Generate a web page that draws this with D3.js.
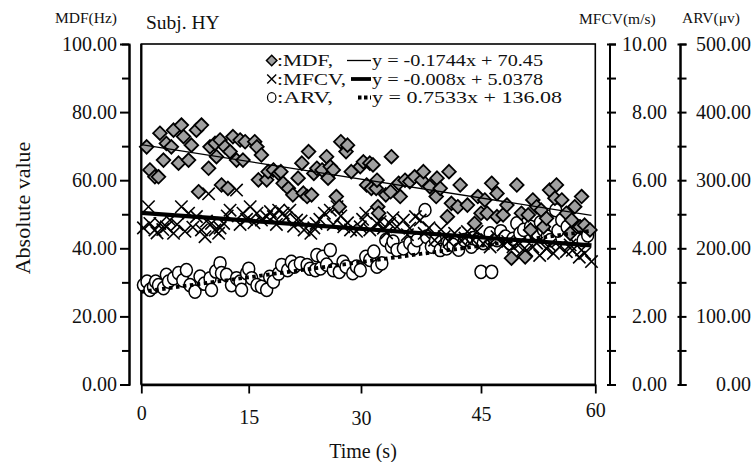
<!DOCTYPE html>
<html>
<head>
<meta charset="utf-8">
<script src="https://cdn.jsdelivr.net/npm/d3@7.9.0/dist/d3.min.js"></script>
<style>
  body { margin: 0; background: #fff; }
  svg text { font-family: "Liberation Serif", "DejaVu Serif", serif; fill: #111; }
</style>
</head>
<body>
<svg id="chart" width="755" height="462"></svg>
<script>
// --- data ---
const xTicks = [0, 15, 30, 45, 60];
const leftTicks = [0, 20, 40, 60, 80, 100];
const mfcvTicks = [0, 2, 4, 6, 8, 10];
const arvTicks = [0, 100, 200, 300, 400, 500];

// MDF (Hz)
const mdfTime = [0.75, 1.2, 1.9, 2.4, 2.6, 3.1, 3.5, 4.2, 4.5, 5.2, 5.6, 5.9, 6.6, 7.0, 7.7, 8.0, 8.4, 9.4, 9.6, 10.3,
  10.5, 11.0, 11.2, 11.7, 12.1, 12.4, 12.8, 13.3, 13.8, 14.2, 14.5, 15.8, 16.1, 16.3, 16.7, 17.4, 17.6, 18.3, 19.0, 19.3,
  19.6, 20.3, 20.9, 21.6, 22.1, 22.3, 22.8, 23.0, 23.4, 23.7, 24.1, 24.8, 25.4, 25.6, 25.9, 26.3, 26.7, 27.1, 27.3, 28.0,
  28.2, 28.7, 29.9, 30.3, 30.7, 31.1, 31.3, 31.5, 31.9, 32.0, 32.1, 32.2, 33.1, 33.7, 33.8, 34.7, 34.9, 35.5, 36.1, 36.7,
  37.6, 37.8, 38.6, 39.4, 39.5, 39.9, 40.8, 41.0, 41.3, 42.1, 42.4, 43.3, 44.2, 44.6, 45.0, 45.5, 45.8, 46.4, 47.1, 47.1,
  47.9, 48.4, 49.0, 49.7, 50.3, 50.8, 51.2, 51.5, 51.8, 52.3, 52.9, 53.2, 53.6, 54.0, 54.7, 54.9, 55.6, 56.2, 56.7, 56.9,
  57.3, 58.0, 58.2, 58.6, 59.3];
const mdfValue = [69.8, 63.0, 61.0, 61.0, 73.8, 65.9, 70.8, 69.8, 74.7, 65.0, 76.2, 72.8, 65.9, 70.3, 74.7, 56.6, 76.2, 63.5, 69.8, 70.8,
  66.9, 71.8, 58.6, 69.8, 57.6, 68.4, 72.8, 65.9, 71.8, 65.9, 71.3, 71.3, 69.8, 60.1, 67.4, 60.1, 62.5, 63.0, 62.0, 62.5,
  59.1, 57.6, 55.7, 60.6, 65.0, 56.2, 55.2, 68.4, 55.7, 62.0, 63.5, 63.0, 66.9, 60.6, 64.0, 63.0, 55.2, 52.2, 71.3, 68.4,
  70.3, 62.5, 64.0, 65.4, 58.6, 65.0, 57.6, 64.5, 57.6, 60.0, 52.2, 50.3, 55.7, 56.6, 66.9, 59.1, 55.2, 60.0, 59.6, 61.0,
  60.0, 62.5, 58.1, 55.2, 60.6, 57.6, 49.3, 62.5, 53.2, 52.2, 58.6, 52.7, 47.3, 55.2, 50.3, 54.2, 50.3, 59.1, 56.1, 49.3,
  49.8, 52.7, 37.1, 58.6, 50.3, 37.5, 49.8, 45.4, 54.2, 52.2, 51.2, 46.3, 48.8, 57.1, 54.7, 58.6, 54.2, 50.3, 44.4, 48.3,
  52.2, 46.3, 55.2, 46.8, 45.4];

// MFCV (m/s)
const mfcvTime = [0.3, 1.0, 1.2, 1.9, 2.2, 2.6, 3.0, 3.5, 4.0, 4.5, 5.0, 5.6, 6.1, 6.6, 7.2, 7.7, 8.4, 8.9, 9.1, 9.4,
  9.8, 10.3, 10.8, 11.0, 11.5, 12.0, 12.4, 13.3, 13.8, 14.2, 14.7, 15.2, 15.7, 16.1, 16.7, 17.4, 17.9, 18.3, 18.7, 19.0,
  19.6, 20.0, 20.5, 21.0, 21.4, 22.0, 22.4, 23.3, 23.7, 24.0, 24.5, 25.1, 25.9, 26.3, 26.8, 27.3, 27.7, 28.2, 28.6, 29.4,
  29.9, 30.2, 30.6, 31.1, 32.0, 32.4, 32.8, 33.2, 33.6, 34.0, 34.5, 35.3, 35.8, 36.1, 36.8, 37.4, 37.9, 38.5, 39.2, 40.0,
  40.4, 41.0, 41.7, 42.5, 43.0, 43.3, 44.0, 44.5, 45.3, 45.8, 46.2, 47.1, 47.9, 48.5, 49.2, 50.1, 50.5, 51.0, 51.8, 52.3,
  52.7, 53.6, 54.0, 54.5, 55.3, 56.2, 56.7, 57.0, 57.9, 58.2, 58.6, 59.5];
const mfcvValue = [4.60, 5.22, 4.73, 4.54, 4.45, 4.73, 4.55, 4.63, 4.83, 4.44, 4.70, 5.22, 4.50, 5.03, 4.62, 4.93, 4.54, 4.34, 4.80, 5.60,
  4.73, 4.54, 4.44, 4.60, 4.73, 4.95, 5.12, 5.71, 4.70, 5.03, 4.85, 5.22, 4.75, 5.03, 4.83, 4.93, 5.08, 4.93, 4.70, 5.12,
  5.03, 4.90, 5.12, 4.65, 4.83, 4.80, 4.54, 4.44, 4.60, 4.73, 4.85, 5.03, 5.12, 4.70, 5.22, 4.95, 4.63, 4.75, 4.54, 4.50,
  4.63, 4.85, 5.03, 4.54, 4.73, 4.78, 4.59, 4.45, 4.73, 4.90, 4.63, 4.83, 4.40, 4.59, 4.93, 4.83, 4.44, 4.60, 4.24, 4.55,
  4.34, 4.20, 4.44, 4.24, 4.30, 4.49, 4.24, 4.50, 4.14, 4.25, 4.04, 4.34, 4.10, 4.20, 4.04, 4.14, 3.95, 3.94, 4.04, 4.15,
  3.79, 3.99, 4.10, 3.85, 4.04, 3.90, 4.10, 3.94, 3.74, 3.95, 3.85, 3.61];

// ARV (uV)
const arvTime = [0.3, 0.8, 1.2, 1.7, 2.0, 2.4, 3.1, 3.5, 3.8, 4.5, 5.2, 5.8, 6.3, 6.8, 7.5, 8.2, 8.8, 9.6, 9.8, 10.4,
  11.0, 11.2, 11.9, 12.6, 13.3, 13.8, 14.0, 14.7, 15.0, 15.4, 16.1, 16.7, 17.4, 17.8, 18.3, 19.0, 19.4, 20.2, 20.7, 21.1,
  21.9, 22.8, 23.2, 23.9, 24.1, 24.6, 24.9, 25.4, 25.9, 26.3, 27.1, 27.6, 28.0, 28.9, 29.4, 29.9, 30.6, 31.1, 31.6, 32.0,
  32.6, 33.1, 33.8, 34.0, 34.5, 35.3, 36.1, 36.6, 37.0, 38.0, 38.2, 38.8, 39.3, 39.9, 40.7, 41.0, 41.5, 42.2, 42.9, 43.8,
  44.0, 44.6, 45.0, 45.3, 46.2, 46.4, 47.1, 47.6, 48.2, 48.8, 49.2, 49.7, 50.1, 50.6, 51.5, 52.4, 52.8, 53.2, 53.7, 54.1,
  54.8, 55.1, 55.6, 56.3, 57.1, 57.6, 57.8, 58.4, 59.0];
const arvValue = [146, 151, 139, 143.5, 151, 146, 141.5, 161, 151, 156, 163.5, 153, 168, 146, 136.5, 158.5, 148, 156, 139, 166,
  178, 163.5, 161, 146, 156, 151, 139, 163.5, 170, 156, 146, 143.5, 139, 158, 151, 163, 175.5, 168, 180, 173,
  178, 175.5, 170, 168, 190, 170.5, 187.5, 176, 197.5, 168, 165.5, 180, 173, 163.5, 173, 168, 187.5, 183, 195, 173,
  178, 212, 202.5, 210, 197.5, 200, 207.5, 200, 212, 256, 217, 202.5, 212, 197.5, 200, 207, 205, 198, 212, 202.5,
  215, 212, 165.5, 207.5, 222, 165.5, 212, 225, 217, 207.5, 214, 236.5, 222, 227, 231.5, 222, 238, 227, 217, 212,
  256, 226, 241.5, 231.5, 222, 217, 232, 212, 219];

// linear fits, x = sample index (2 samples per second)
const fitSlope = [-0.1744, -0.008, 0.7533];
const fitIntercept = [70.45, 5.0378, 136.08];
const fitIndexRange = [0, 119];
const seriesNames = [":MDF,", ":MFCV,", ":ARV,"];
const fitLabels = ["y = -0.1744x + 70.45", "y = -0.008x + 5.0378", "y = 0.7533x + 136.08"];

// --- layout ---
const svg = d3.select('#chart');
const plotTop = 44, plotBottom = 384.5;
const serif = '"Liberation Serif", "DejaVu Serif", serif';
const x = d3.scaleLinear().domain(xTicks).range([141.3, 248.7, 361, 481, 595.3]);
const yL = d3.scaleLinear().domain([0, 100]).range([plotBottom, plotTop]);
const yM = d3.scaleLinear().domain([0, 10]).range([plotBottom, plotTop]);
const yA = d3.scaleLinear().domain([0, 500]).range([plotBottom, plotTop]);

function styleAxis(g, w) {
  g.attr('font-family', serif);
  g.selectAll('path.domain').attr('stroke', '#000').attr('stroke-width', w);
  g.selectAll('line').attr('stroke', '#000').attr('stroke-width', w);
  g.selectAll('text').attr('font-size', 20).attr('fill', '#111').attr('font-family', serif);
}

// left axis
const gl = svg.append('g').attr('transform', 'translate(129,0)');
gl.append('g').call(d3.axisLeft(yL).tickValues(d3.range(10, 100, 20)).tickSize(7).tickFormat(''));
gl.append('g').call(d3.axisLeft(yL).tickValues(leftTicks).tickSize(9).tickSizeOuter(0).tickPadding(3).tickFormat(d => d.toFixed(2)));
styleAxis(gl, 2);

// MFCV axis
const gm = svg.append('g').attr('transform', 'translate(609.5,0)');
gm.append('g').call(d3.axisRight(yM).tickValues(d3.range(1, 10, 2)).tickSize(6.5).tickFormat(''));
gm.append('g').call(d3.axisRight(yM).tickValues(mfcvTicks).tickSize(6.5).tickSizeOuter(0).tickFormat(d => d.toFixed(2)));
gm.selectAll('.tick line').attr('x1', -2.5);
gm.selectAll('.tick text').attr('text-anchor', 'end').attr('x', 57.5);
styleAxis(gm, 2);

// ARV axis
const ga = svg.append('g').attr('transform', 'translate(680,0)');
ga.append('g').call(d3.axisRight(yA).tickValues(d3.range(50, 500, 100)).tickSize(6.5).tickFormat(''));
ga.append('g').call(d3.axisRight(yA).tickValues(arvTicks).tickSize(6.5).tickSizeOuter(0).tickFormat(d => d.toFixed(2)));
ga.selectAll('.tick line').attr('x1', -2.5);
ga.selectAll('.tick text').attr('text-anchor', 'end').attr('x', 71);
styleAxis(ga, 2);

// plot frame
svg.append('rect')
  .attr('x', x(0)).attr('y', plotTop)
  .attr('width', x(60) - x(0)).attr('height', plotBottom - plotTop)
  .attr('fill', 'none').attr('stroke', '#000').attr('stroke-width', 1.6);
svg.append('line').attr('x1', x(0)).attr('x2', x(0)).attr('y1', plotTop).attr('y2', plotBottom)
  .attr('stroke', '#000').attr('stroke-width', 2.2);

// x axis
const labelShift = [0, 4, 5, 1, -3];
const gx = svg.append('g').attr('transform', `translate(0,${plotBottom})`);
gx.call(d3.axisBottom(x).tickValues(xTicks).tickSize(9).tickSizeOuter(0).tickFormat(d => d));
styleAxis(gx, 1.8);
gx.select('path.domain').attr('stroke-width', 2.6);
gx.selectAll('.tick text').attr('y', (d, i) => 28.5 + labelShift[i]).attr('dy', '0.35em');

// markers
const mdfPts = mdfTime.map((t, i) => ({ t, v: mdfValue[i] }));
const mfcvPts = mfcvTime.map((t, i) => ({ t, v: mfcvValue[i] }));
const arvPts = arvTime.map((t, i) => ({ t, v: arvValue[i] }));

const diamond = s => `M0,${-s}L${s},0L0,${s}L${-s},0Z`;
const cross = s => `M${-s},${-s}L${s},${s}M${-s},${s}L${s},${-s}`;

svg.append('g').selectAll('ellipse').data(arvPts).join('ellipse')
  .attr('cx', d => x(d.t)).attr('cy', d => yA(d.v))
  .attr('rx', 6).attr('ry', 6.6)
  .attr('fill', '#fff').attr('stroke', '#000').attr('stroke-width', 1.5);

svg.append('g').selectAll('path').data(mfcvPts).join('path')
  .attr('transform', d => `translate(${x(d.t)},${yM(d.v)})`)
  .attr('d', cross(6.2))
  .attr('fill', 'none').attr('stroke', '#000').attr('stroke-width', 1.6);

svg.append('g').selectAll('path').data(mdfPts).join('path')
  .attr('transform', d => `translate(${x(d.t)},${yL(d.v)})`)
  .attr('d', diamond(6.8))
  .attr('fill', '#a0a0a0').attr('stroke', '#000').attr('stroke-width', 1.8);

// fit lines
const fitScales = [yL, yM, yA];
const fitWidth = [1.3, 4.2, 3.8];
const fitDash = [null, null, '3.5,3.5'];
fitSlope.forEach((m, k) => {
  svg.append('line')
    .attr('x1', x(fitIndexRange[0] / 2)).attr('x2', x(fitIndexRange[1] / 2))
    .attr('y1', fitScales[k](m * fitIndexRange[0] + fitIntercept[k]))
    .attr('y2', fitScales[k](m * fitIndexRange[1] + fitIntercept[k]))
    .attr('stroke', '#000').attr('stroke-width', fitWidth[k])
    .attr('stroke-dasharray', fitDash[k]);
});

// legend
const rowY = [60.5, 79, 97.5];
const nameWidth = [56, 69, 56];
const fitTextWidth = [171, 171, 190];
const leg = svg.append('g');
leg.append('path').attr('transform', `translate(271.7,${rowY[0]})`).attr('d', diamond(5.2))
  .attr('fill', '#a0a0a0').attr('stroke', '#000').attr('stroke-width', 1.5);
leg.append('path').attr('transform', `translate(271.7,${rowY[1]})`).attr('d', cross(4.5))
  .attr('fill', 'none').attr('stroke', '#000').attr('stroke-width', 1.4);
leg.append('ellipse').attr('cx', 271.7).attr('cy', rowY[2]).attr('rx', 4.2).attr('ry', 4.8)
  .attr('fill', '#fff').attr('stroke', '#000').attr('stroke-width', 1.2);
const sampleX0 = [347, 351, 358];
seriesNames.forEach((s, k) => {
  leg.append('text').attr('x', 277).attr('y', rowY[k]).attr('dy', '0.35em')
    .attr('font-size', 16).attr('textLength', nameWidth[k]).attr('lengthAdjust', 'spacingAndGlyphs').text(s);
  leg.append('line').attr('x1', sampleX0[k]).attr('x2', 371).attr('y1', rowY[k]).attr('y2', rowY[k])
    .attr('stroke', '#000').attr('stroke-width', k === 0 ? 1.3 : 3.8)
    .attr('stroke-dasharray', k === 2 ? '3.5,2.5' : null);
  leg.append('text').attr('x', 372).attr('y', rowY[k]).attr('dy', '0.35em')
    .attr('font-size', 16).attr('textLength', fitTextWidth[k]).attr('lengthAdjust', 'spacingAndGlyphs')
    .text(fitLabels[k]);
});

// titles
svg.append('text').attr('x', 55).attr('y', 23).attr('font-size', 15.5).text('MDF(Hz)');
svg.append('text').attr('x', 146).attr('y', 29).attr('font-size', 19.5).text('Subj. HY');
svg.append('text').attr('x', 579).attr('y', 24).attr('font-size', 15.5).text('MFCV(m/s)');
svg.append('text').attr('x', 682).attr('y', 23).attr('font-size', 15.5).text('ARV(\u03BCv)');
svg.append('text').attr('transform', 'translate(22,208) rotate(-90)')
  .attr('text-anchor', 'middle').attr('dy', '0.35em').attr('font-size', 22).text('Absolute value');
svg.append('text').attr('x', 363).attr('y', 451).attr('text-anchor', 'middle').attr('dy', '0.35em')
  .attr('font-size', 20).text('Time (s)');
</script>
</body>
</html>
